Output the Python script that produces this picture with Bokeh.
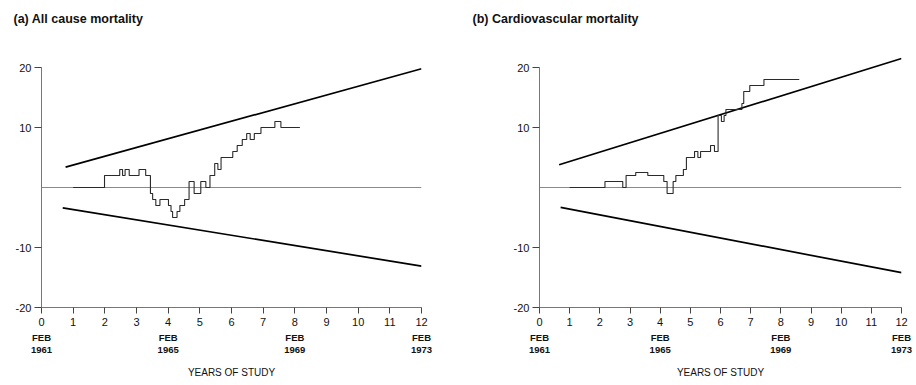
from bokeh.plotting import figure
from bokeh.layouts import row
from bokeh.models import FixedTicker, LinearAxis
from bokeh.embed import file_html
from bokeh.resources import INLINE

# ---------------- data ----------------
years_ticks = list(range(0, 13))
feb_years = [0, 4, 8, 12]
feb_month = ["FEB", "FEB", "FEB", "FEB"]
feb_labels = ["1961", "1965", "1969", "1973"]
y_ticks = [-20, -10, 10, 20]
y_tick_labels = ["-20", "-10", "10", "20"]

# (a) All cause mortality: cumulative step series
a_x = [1.0, 1.99, 2.47, 2.56, 2.64, 2.77, 3.08, 3.29, 3.44, 3.51, 3.61, 3.74,
       4.01, 4.09, 4.14, 4.28, 4.37, 4.52, 4.66, 4.82, 5.03, 5.19, 5.32, 5.47,
       5.57, 5.67, 6.04, 6.18, 6.34, 6.48, 6.59, 6.72, 6.93, 7.37, 7.56, 8.16]
a_y = [0, 2, 3, 2, 3, 2, 3, 2, -1, -2, -3, -2,
       -3, -4, -5, -4, -3, -2, 1, -1, 1, 0, 2, 4,
       3, 5, 6, 7, 8, 9, 8, 9, 10, 11, 10, 10]
a_upper_x = [0.76, 12.0]
a_upper_y = [3.4, 19.8]
a_lower_x = [0.67, 12.0]
a_lower_y = [-3.4, -13.1]

# (b) Cardiovascular mortality
b_x = [1.0, 2.17, 2.76, 2.87, 3.19, 3.59, 4.12, 4.23, 4.43, 4.52, 4.77, 4.87,
       5.14, 5.25, 5.34, 5.67, 5.80, 5.92, 6.03, 6.12, 6.18, 6.71, 6.77, 6.97,
       7.44, 8.61]
b_y = [0, 1, 0, 2, 2.5, 2, 1, -1, 1, 2, 3, 5,
       6, 5, 6, 7, 6, 12, 11, 12, 13, 14, 16, 17,
       18, 18]
b_upper_x = [0.65, 12.0]
b_upper_y = [3.8, 21.5]
b_lower_x = [0.70, 12.0]
b_lower_y = [-3.3, -14.2]

zero_x = [0, 12]
zero_y = [0, 0]

FONT = "Liberation Sans"


def panel(title, sx, sy, ux, uy, lx, ly, width, bl, br, title_offset):
    p = figure(width=width, height=385, output_backend="svg", toolbar_location=None,
               x_range=(0, 12), y_range=(-20, 26.17),
               min_border_left=bl, min_border_right=br,
               min_border_top=30, min_border_bottom=78,
               title=title)
    p.outline_line_color = None
    p.grid.visible = False
    p.background_fill_color = "white"
    p.border_fill_color = "white"

    p.title.text_font = FONT
    p.title.text_font_size = "12.5px"
    p.title.text_font_style = "bold"
    p.title.text_color = "#111111"
    p.title.align = "left"
    p.title.offset = title_offset

    for ax in (p.xaxis[0], p.yaxis[0]):
        ax.axis_line_color = "#777777"
        ax.axis_line_width = 1
        ax.major_tick_line_color = "#444444"
        ax.minor_tick_line_color = None
        ax.major_tick_in = 0
        ax.major_label_text_font = FONT
        ax.major_label_text_font_size = "11px"
        ax.major_label_text_color = "#111111"

    p.xaxis[0].ticker = FixedTicker(ticks=years_ticks)
    p.xaxis[0].bounds = (0, 12)
    p.xaxis[0].major_tick_out = 6
    p.xaxis[0].major_label_standoff = 4

    p.yaxis[0].ticker = FixedTicker(ticks=y_ticks)
    p.yaxis[0].major_label_overrides = dict(zip(y_ticks, y_tick_labels))
    p.yaxis[0].bounds = (-20, 20)
    p.yaxis[0].major_tick_out = 7
    p.yaxis[0].major_label_standoff = 3

    # extra axes carrying the FEB / year labels under ticks 0, 4, 8, 12
    for labels, is_last, stand in ((feb_month, False, 3), (feb_labels, True, 1)):
        ax = LinearAxis(ticker=FixedTicker(ticks=feb_years),
                        major_label_overrides=dict(zip(feb_years, labels)),
                        axis_line_color=None, major_tick_line_color=None,
                        minor_tick_line_color=None,
                        major_tick_in=0, major_tick_out=0,
                        major_label_standoff=stand,
                        major_label_text_font=FONT,
                        major_label_text_font_size="9.5px",
                        major_label_text_font_style="bold",
                        major_label_text_color="#111111")
        if is_last:
            ax.axis_label = "YEARS OF STUDY"
            ax.axis_label_text_font = FONT
            ax.axis_label_text_font_size = "10px"
            ax.axis_label_text_font_style = "normal"
            ax.axis_label_text_color = "#111111"
            ax.axis_label_standoff = 11
        p.add_layout(ax, "below")

    p.line(zero_x, zero_y, line_color="#8a8a8a", line_width=1)
    p.line(ux, uy, line_color="black", line_width=1.7)
    p.line(lx, ly, line_color="black", line_width=1.7)
    p.step(sx, sy, mode="after", line_color="#2a2a2a", line_width=1.1)
    return p


pa = panel("(a) All cause mortality", a_x, a_y, a_upper_x, a_upper_y,
           a_lower_x, a_lower_y, 460, 41, 39, -28)
pb = panel("(b) Cardiovascular mortality", b_x, b_y, b_upper_x, b_upper_y,
           b_lower_x, b_lower_y, 456, 79, 15, -67)

layout = row(pa, pb)
open("out.html", "w").write(file_html(layout, INLINE))
